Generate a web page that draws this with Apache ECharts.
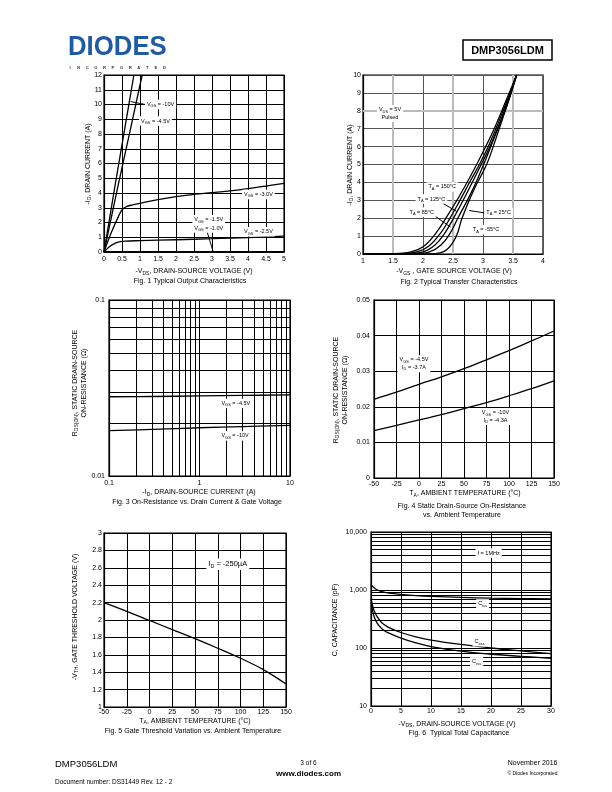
<!DOCTYPE html>
<html>
<head>
<meta charset="utf-8">
<title>DMP3056LDM</title>
<script src="https://cdn.jsdelivr.net/npm/echarts@6/dist/echarts.min.js"></script>
<style>
  html, body { margin: 0; padding: 0; background: #fff; }
  #page { width: 612px; height: 792px; }
</style>
</head>
<body>
<div id="page"></div>
<script>
const FONT = 'Liberation Sans, Arial, Helvetica, sans-serif';

// Fig. 1 output characteristics, [-VDS (V), -ID (A)]
const outVgs10 = [[0, 0], [0.3, 4.4], [0.6, 8.7], [0.83, 12]];
const outVgs45 = [[0, 0], [0.4, 4.6], [0.75, 8.5], [1.06, 12]];
const outVgs30 = [[0, 0], [0.2, 1.3], [0.4, 2.4], [0.5, 2.85], [0.6, 3.05], [0.8, 3.2], [1, 3.3], [1.5, 3.55], [2, 3.75], [2.5, 3.9], [3, 4.02], [3.5, 4.15], [4, 4.3], [4.5, 4.47], [5, 4.65]];
const outVgs25 = [[0, 0], [0.15, 0.35], [0.3, 0.58], [0.45, 0.7], [0.6, 0.74], [1, 0.77], [2, 0.83], [3, 0.9], [4, 0.98], [5, 1.08]];
const outVgs15 = [[0, 0], [5, 0.03]];
const outVgs1 = [[0, 0], [5, 0.01]];

// Fig. 2 transfer characteristics, [-VGS (V), -ID (A)]
const xfer150 = [[1, 0], [1.5, 0.02], [1.8, 0.12], [2.0, 0.4], [2.2, 1.1], [2.4, 2.1], [2.6, 3.2], [2.8, 4.4], [3.0, 5.7], [3.2, 7.1], [3.4, 8.7], [3.56, 10]];
const xfer125 = [[1, 0], [1.6, 0.02], [1.9, 0.12], [2.1, 0.45], [2.3, 1.2], [2.45, 2.0], [2.6, 2.9], [2.8, 4.15], [2.94, 5.0], [3.1, 6.1], [3.3, 7.7], [3.56, 10]];
const xfer85 = [[1, 0], [1.7, 0.02], [2.0, 0.12], [2.2, 0.5], [2.35, 1.1], [2.5, 1.95], [2.7, 3.2], [2.97, 5.0], [3.1, 5.9], [3.3, 7.5], [3.56, 10]];
const xfer25 = [[1, 0], [1.9, 0.02], [2.1, 0.1], [2.3, 0.5], [2.45, 1.15], [2.58, 2.0], [2.8, 3.4], [3.01, 5.0], [3.2, 6.6], [3.4, 8.3], [3.56, 10]];
const xferM55 = [[1, 0], [2.1, 0.01], [2.3, 0.08], [2.4, 0.25], [2.5, 0.65], [2.58, 1.2], [2.65, 2.0], [2.85, 3.6], [3.06, 5.0], [3.2, 6.3], [3.37, 8.0], [3.56, 10]];

// Fig. 3 on-resistance vs drain current
const rdsId = [0.1, 0.3, 1, 3, 10];
const rdsVgs45 = [0.0282, 0.0283, 0.0285, 0.0287, 0.0289];
const rdsVgs10 = [0.0181, 0.0184, 0.0188, 0.0191, 0.0194];
const rdsMinorX = [0.2, 0.3, 0.4, 0.5, 0.6, 0.7, 0.8, 0.9, 2, 3, 4, 5, 6, 7, 8, 9];
const rdsMinorY = [0.02, 0.03, 0.04, 0.05, 0.06, 0.07, 0.08, 0.09];

// Fig. 4 on-resistance vs temperature
const tempC = [-50, -25, 0, 25, 50, 75, 100, 125, 150];
const rdsT45 = [0.0221, 0.0241, 0.0263, 0.0284, 0.0307, 0.0332, 0.0358, 0.0385, 0.0413];
const rdsT10 = [0.0133, 0.0148, 0.0163, 0.0178, 0.0195, 0.0212, 0.0231, 0.0251, 0.0273];

// Fig. 5 gate threshold vs temperature
const vthT = [2.2, 2.1, 1.995, 1.89, 1.785, 1.675, 1.56, 1.43, 1.265];

// Fig. 6 capacitance
const capV = [0, 0.3, 0.6, 1, 1.5, 2, 3, 5, 7.5, 10, 15, 20, 25, 30];
const ciss = [1230, 1150, 1080, 1010, 960, 925, 885, 840, 800, 775, 745, 725, 712, 700];
const coss = [720, 520, 420, 350, 295, 262, 225, 185, 155, 137, 115, 100, 89, 80];
const crss = [620, 420, 330, 272, 232, 207, 180, 148, 122, 106, 88, 78, 72, 66];
const capMinorY = [20, 30, 40, 50, 60, 70, 80, 90, 200, 300, 400, 500, 600, 700, 800, 900, 2000, 3000, 4000, 5000, 6000, 7000, 8000, 9000];
const capTickLabels = { 10: '10', 100: '100', 1000: '1,000', 10000: '10,000' };

const chart = echarts.init(document.getElementById('page'), null, { width: 612, height: 792 });

const grids = [
  { left: 104, top: 75, width: 180, height: 177 },
  { left: 363, top: 75, width: 180, height: 179 },
  { left: 109, top: 300, width: 181, height: 176 },
  { left: 374, top: 300, width: 180, height: 178 },
  { left: 104, top: 533, width: 182, height: 174 },
  { left: 371, top: 532, width: 180, height: 174 },
].map(g => Object.assign({ show: true, borderColor: '#000', borderWidth: 1.2, outerBoundsMode: 'none' }, g));

function axis(gridIndex, min, max, interval, margin, more) {
  return Object.assign({
    gridIndex, type: 'value', min, max, interval,
    axisLine: { show: true, onZero: false, lineStyle: { color: '#000', width: 1.2 } },
    axisTick: { show: false },
    axisLabel: { color: '#000', fontSize: 7, fontFamily: FONT, margin },
    splitLine: { show: true, lineStyle: { color: '#000', width: 1 } },
  }, more);
}

function logAxis(gridIndex, min, max, margin, formatter) {
  const a = axis(gridIndex, min, max, undefined, margin, { type: 'log', logBase: 10 });
  if (formatter) a.axisLabel.formatter = formatter;
  return a;
}

function curve(gi, data, more) {
  return Object.assign({
    type: 'line', xAxisIndex: gi, yAxisIndex: gi, data,
    symbol: 'none', smooth: 0.4, silent: true, animation: false,
    lineStyle: { color: '#000', width: 1.3 },
  }, more);
}

const pairs = (xs, ys) => xs.map((x, i) => [x, ys[i]]);

function notes(items, size) {
  return {
    silent: true, animation: false, z: 6,
    symbol: 'rect', symbolSize: 1, itemStyle: { color: 'rgba(0,0,0,0)' },
    label: {
      show: true, position: 'inside', color: '#000', fontFamily: FONT,
      fontSize: size || 5.5, lineHeight: (size || 5.5) + 2,
      backgroundColor: '#fff', padding: [1, 2],
      rich: {
        s: { fontSize: (size || 5.5) * 0.72, fontFamily: FONT, verticalAlign: 'bottom', lineHeight: 4 },
      },
    },
    data: items.map(n => ({ coord: n[0], value: 0, label: { formatter: n[1], align: n[2] || 'center' } })),
  };
}

function arrows(list) {
  return {
    silent: true, animation: false, z: 6,
    symbol: ['none', 'arrow'], symbolSize: [0, 5],
    label: { show: false },
    lineStyle: { color: '#000', width: 1, type: 'solid' },
    data: list.map(a => [{ coord: a[0] }, { coord: a[1] }]),
  };
}

function gridLines(xs, ys, color, width) {
  return {
    silent: true, animation: false, z: 3,
    symbol: ['none', 'none'],
    label: { show: false },
    lineStyle: { color: color || '#000', width: width || 1, type: 'solid' },
    data: xs.map(v => ({ xAxis: v })).concat(ys.map(v => ({ yAxis: v }))),
  };
}

const xAxes = [
  axis(0, 0, 5, 0.5, 4),
  axis(1, 1, 4, 0.5, 4, { splitLine: { show: true, lineStyle: { color: '#555', width: 1 } } }),
  logAxis(2, 0.1, 10, 4),
  axis(3, -50, 150, 25, 3),
  axis(4, -50, 150, 25, 2),
  axis(5, 0, 30, 5, 2),
];
const yAxes = [
  axis(0, 0, 12, 1, 2),
  axis(1, 0, 10, 1, 2, { splitLine: { show: true, lineStyle: { color: '#555', width: 1 } } }),
  logAxis(2, 0.01, 0.1, 4),
  axis(3, 0, 0.05, 0.01, 4),
  axis(4, 1, 3, 0.2, 2),
  logAxis(5, 10, 10000, 4, v => capTickLabels[Math.round(v)] || ''),
];

const series = [
  // Fig. 1
  curve(0, outVgs10, { smooth: false,
    markLine: arrows([[[1.15, 10.0], [0.74, 10.2]], [[2.86, 1.4], [3.03, 0.05]]]),
    markPoint: notes([
      [[1.57, 10.0], 'V{s|GS} = -10V'],
      [[1.43, 8.88], 'V{s|GS} = -4.5V'],
      [[4.29, 3.9], 'V{s|GS} = -3.0V'],
      [[2.91, 2.19], 'V{s|GS} = -1.5V'],
      [[2.91, 1.62], 'V{s|GS} = -1.0V'],
      [[4.29, 1.37], 'V{s|GS} = -2.5V'],
    ]) }),
  curve(0, outVgs45, { smooth: false }),
  curve(0, outVgs30),
  curve(0, outVgs25),
  curve(0, outVgs15, { smooth: false }),
  curve(0, outVgs1, { smooth: false }),
  // Fig. 2
  curve(1, xfer150, {
    markLine: gridLines([1.5, 2.5, 3.5], [8], '#bbb', 2),
  }),
  curve(1, xfer125, {
    markLine: arrows([[[2.31, 2.87], [2.56, 2.38]], [[2.2, 2.12], [2.46, 1.5]], [[3.06, 2.28], [2.77, 2.43]]]),
    markPoint: notes([
      [[1.45, 7.85], 'V{s|DS} = 5V\nPulsed'],
      [[2.32, 3.75], 'T{s|A} = 150°C'],
      [[2.14, 3.07], 'T{s|A} = 125°C'],
      [[1.98, 2.34], 'T{s|A} = 85°C'],
      [[3.26, 2.32], 'T{s|A} = 25°C'],
      [[3.05, 1.36], 'T{s|A} = -55°C'],
    ]),
  }),
  curve(1, xfer85),
  curve(1, xfer25),
  curve(1, xferM55),
  // Fig. 3
  curve(2, pairs(rdsId, rdsVgs45), { markLine: gridLines(rdsMinorX, rdsMinorY) }),
  curve(2, pairs(rdsId, rdsVgs10), {
    markPoint: notes([
      [[2.52, 0.0258], 'V{s|GS} = -4.5V'],
      [[2.47, 0.0169], 'V{s|GS} = -10V'],
    ]),
  }),
  // Fig. 4
  curve(3, pairs(tempC, rdsT45), {
    markPoint: notes([
      [[-5.6, 0.0321], 'V{s|GS} = -4.5V\nI{s|D} = -3.7A'],
      [[85, 0.0173], 'V{s|GS} = -10V\nI{s|D} = -4.3A'],
    ]),
  }),
  curve(3, pairs(tempC, rdsT10)),
  // Fig. 5
  curve(4, pairs(tempC, vthT), {
    markPoint: notes([[[86, 2.64], 'I{s|D} = -250µA']], 7.5),
  }),
  // Fig. 6
  curve(5, pairs(capV, ciss), { markLine: gridLines([], capMinorY) }),
  curve(5, pairs(capV, coss)),
  curve(5, pairs(capV, crss), {
    markPoint: notes([
      [[19.6, 4335], 'f = 1MHz'],
      [[18.6, 575], 'C{s|iss}'],
      [[18.1, 128], 'C{s|oss}'],
      [[17.6, 57.7], 'C{s|rss}'],
    ]),
  }),
];

// page text: axis names, captions, header and footer
const sub = { s: { fontSize: 5, fontFamily: FONT, verticalAlign: 'bottom', lineHeight: 5 } };
function txt(x, y, text, size, more) {
  const style = Object.assign({
    text, fontSize: size, fontFamily: FONT, fill: '#000',
    align: 'center', verticalAlign: 'middle', lineHeight: size + 2, rich: sub,
  }, more && more.style);
  return Object.assign({ type: 'text', x, y, silent: true, style }, more && more.el);
}
const up = { el: { rotation: Math.PI / 2 } };

const logoLetters = 'INCORPORATED'.split('');

const graphic = [
  // header
  txt(68, 47, 'DIODES', 28, { style: { align: 'left', fontWeight: 900, fill: '#1f5aa6' }, el: { scaleX: 0.92 } }),
  ...logoLetters.map((c, i) => txt(70 + i * 8.6, 68, c, 4.2, { style: { fontWeight: 'bold', fill: '#333' } })),
  { type: 'rect', shape: { x: 463, y: 40, width: 89, height: 20 }, style: { fill: '#fff', stroke: '#000', lineWidth: 1.5 }, silent: true },
  txt(507.5, 50.5, 'DMP3056LDM', 11, { style: { fontWeight: 'bold' } }),

  // Fig. 1
  txt(88, 164, '-I{s|D}, DRAIN CURRENT (A)', 7, up),
  txt(194, 271.5, '-V{s|DS}, DRAIN-SOURCE VOLTAGE (V)', 7),
  txt(190, 281, 'Fig. 1 Typical Output Characteristics', 7),
  // Fig. 2
  txt(350, 165, '-I{s|D}, DRAIN CURRENT (A)', 7, up),
  txt(454, 271.5, '-V{s|GS} , GATE SOURCE VOLTAGE (V)', 7),
  txt(459, 282, 'Fig. 2 Typical Transfer Characteristics', 7),
  // Fig. 3
  txt(75, 383, 'R{s|DS(ON)}, STATIC DRAIN-SOURCE', 7, up),
  txt(84, 383, 'ON-RESISTANCE (Ω)', 7, up),
  txt(199, 492.5, '-I{s|D}, DRAIN-SOURCE CURRENT (A)', 7),
  txt(197, 502, 'Fig. 3 On-Resistance vs. Drain Current & Gate Voltage', 7),
  // Fig. 4
  txt(336, 390, 'R{s|DS(ON)}, STATIC DRAIN-SOURCE', 7, up),
  txt(345, 390, 'ON-RESISTANCE (Ω)', 7, up),
  txt(465, 493.5, 'T{s|A}, AMBIENT TEMPERATURE (°C)', 7),
  txt(462, 506, 'Fig. 4 Static Drain-Source On-Resistance', 7),
  txt(462, 515, 'vs. Ambient Temperature', 7),
  // Fig. 5
  txt(75, 617, '-V{s|TH}, GATE THRESHOLD VOLTAGE (V)', 7, up),
  txt(195, 721, 'T{s|A}, AMBIENT TEMPERATURE (°C)', 7),
  txt(193, 731, 'Fig. 5 Gate Threshold Variation vs. Ambient Temperature', 7),
  // Fig. 6
  txt(335, 620, 'C, CAPACITANCE (pF)', 7, up),
  txt(457, 724, '-V{s|DS}, DRAIN-SOURCE VOLTAGE (V)', 7),
  txt(459, 733, 'Fig. 6  Typical Total Capacitance', 7),

  // footer
  txt(55, 764, 'DMP3056LDM', 9.5, { style: { align: 'left' } }),
  txt(55, 782, 'Document number: DS31449 Rev. 12 - 2', 6.5, { style: { align: 'left' } }),
  txt(308.5, 763, '3 of 6', 6.5),
  txt(308.5, 774, 'www.diodes.com', 8, { style: { fontWeight: 'bold' } }),
  txt(557.5, 763, 'November 2016', 7, { style: { align: 'right' } }),
  txt(557.5, 774, '© Diodes Incorporated', 5, { style: { align: 'right' } }),
];

chart.setOption({
  animation: false,
  backgroundColor: '#fff',
  textStyle: { fontFamily: FONT },
  grid: grids,
  xAxis: xAxes,
  yAxis: yAxes,
  series,
  graphic,
});
</script>
</body>
</html>
